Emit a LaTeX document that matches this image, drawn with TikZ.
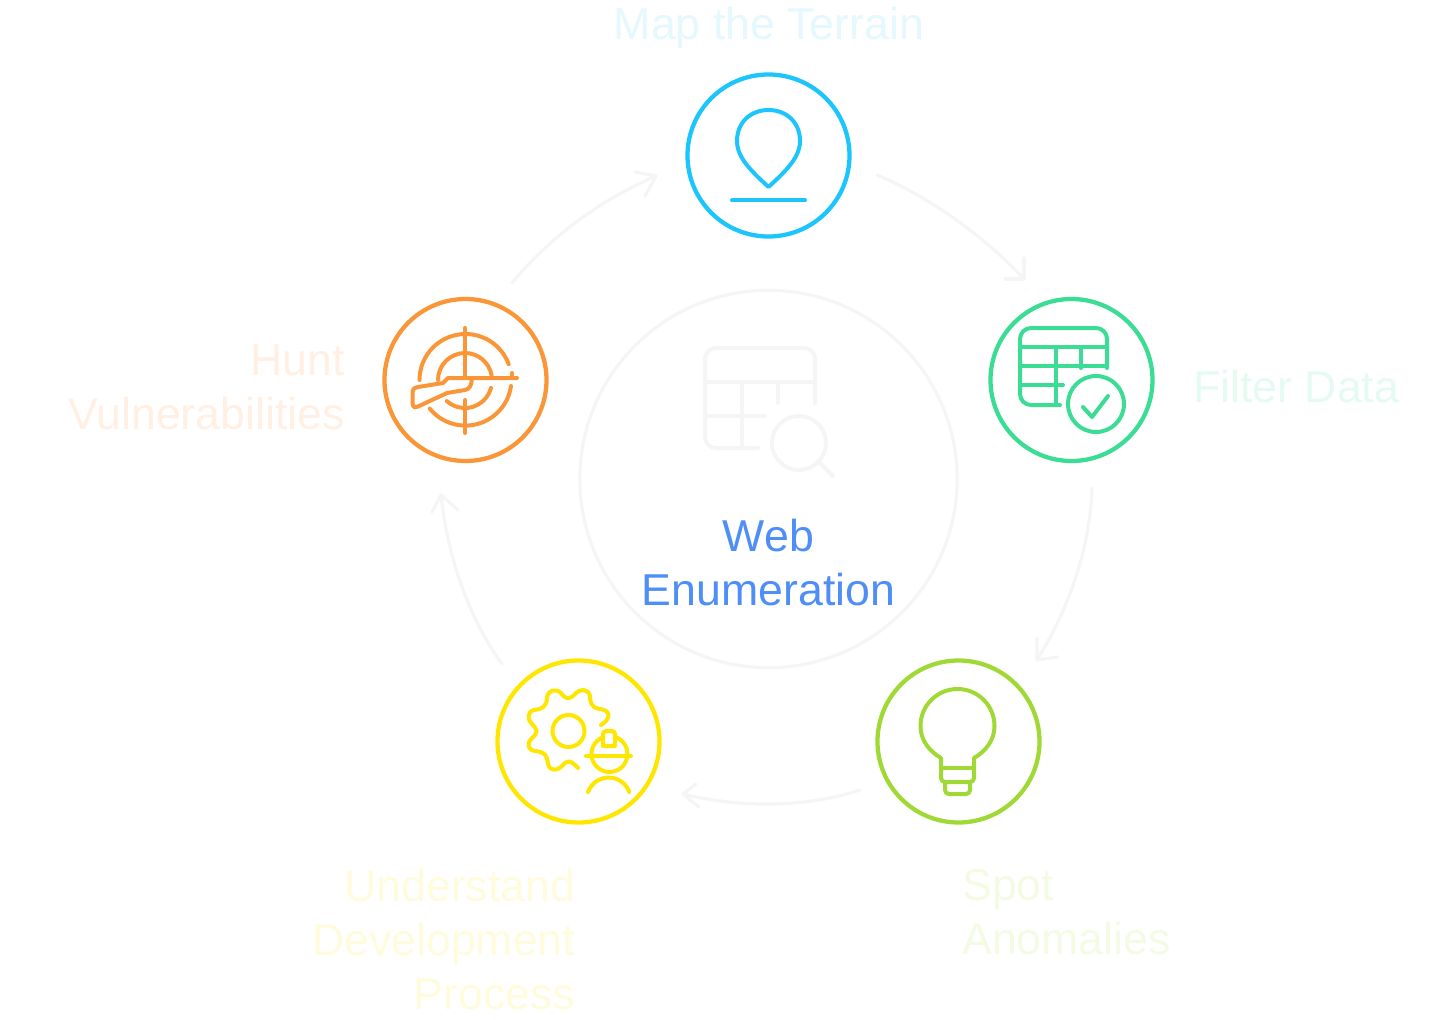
\documentclass[tikz,border=0pt]{standalone}
\usepackage{fontspec}
\setmainfont{Liberation Sans}
\usetikzlibrary{arrows.meta}
\definecolor{cblue}{HTML}{1CC5FB}
\definecolor{cgreen}{HTML}{3BDC93}
\definecolor{clime}{HTML}{A0D936}
\definecolor{cyel}{HTML}{FFE600}
\definecolor{corg}{HTML}{FA9637}
\definecolor{tblue}{HTML}{E4F8FE}
\definecolor{tgreen}{HTML}{E5FBF2}
\definecolor{tlime}{HTML}{F4FBE4}
\definecolor{tyel}{HTML}{FFFCDD}
\definecolor{torg}{HTML}{FFF0E3}
\definecolor{tcen}{HTML}{4F8EF7}
\definecolor{cgrey}{HTML}{F5F5F5}
\tikzset{
 x=0.75pt,y=-0.75pt,
 ring/.style={circle,draw,line width=3.2pt,minimum size=121.5pt,inner sep=0pt},
 ico/.style={line width=3pt,line cap=round,line join=round},
 flow/.style={draw=cgrey,line width=2.4pt,line cap=round,line join=round},
 lab/.style={font=\fontsize{33.5pt}{40.5pt}\selectfont,inner sep=0pt},
}
\begin{document}
\begin{tikzpicture}
\useasboundingbox (0,0) rectangle (1456,1020);
\node[circle,draw=cgrey,line width=2.4pt,minimum size=283pt,inner sep=0pt] (hub) at (768.5,479) {};
\node[ring,draw=cblue] (n1) at (768.5,155.5) {};
\node[ring,draw=cgreen] (n2) at (1071.5,380) {};
\node[ring,draw=clime] (n3) at (958.5,741.5) {};
\node[ring,draw=cyel] (n4) at (578.5,741.5) {};
\node[ring,draw=corg] (n5) at (465.5,380) {};
% connectors
\coordinate (a1s) at (877,175); \coordinate (a1e) at (1024,279);
\coordinate (a2s) at (1092,488); \coordinate (a2e) at (1037,660);
\coordinate (a3s) at (860,790); \coordinate (a3e) at (683,794);
\coordinate (a4s) at (502,664); \coordinate (a4e) at (441,495);
\coordinate (a5s) at (512,283); \coordinate (a5e) at (656,176);
\draw[flow] (a1s) .. controls (930,197) and (985,237) .. (a1e);
\draw[flow] (1005,279) -- (a1e) -- (1024,258);
\draw[flow] (a2s) .. controls (1090,550) and (1068,610) .. (a2e);
\draw[flow] (1037,638) -- (a2e) -- (1058,657);
\draw[flow] (a3s) .. controls (805,808) and (740,808) .. (a3e);
\draw[flow] (696,784) -- (a3e) -- (699,807);
\draw[flow] (a4s) .. controls (470,620) and (448,560) .. (a4e);
\draw[flow] (432,512) -- (a4e) -- (458,510);
\draw[flow] (a5s) .. controls (550,237) and (600,200) .. (a5e);
\draw[flow] (635,172) -- (a5e) -- (645,196);
% pin
\begin{scope}[ico,draw=cblue]
\draw (768.5,187) .. controls (750,170) and (737,157) .. (737,141)
 .. controls (737,122) and (751,110) .. (768.5,110)
 .. controls (786,110) and (800,122) .. (800,141)
 .. controls (800,157) and (787,170) .. (768.5,187) -- cycle;
\draw (732,200.5) -- (805,200.5);
\end{scope}
% table check
\begin{scope}[ico,draw=cgreen]
\draw (1107,368) -- (1107,339) arc[start angle=0,end angle=-90,radius=11] -- (1031,328)
 arc[start angle=270,end angle=180,radius=11] -- (1020,394) arc[start angle=180,end angle=90,radius=11] -- (1060,405);
\draw (1020,347) -- (1107,347);
\draw (1020,366) -- (1107,366);
\draw (1020,385) -- (1063,385);
\draw (1056,347) -- (1056,405);
\draw (1081,347) -- (1081,368);
\draw (1096,404) circle[radius=28];
\draw (1083,407) -- (1092,417) -- (1108,396);
\end{scope}
% bulb
\begin{scope}[ico,draw=clime]
\draw (941,758) .. controls (929,751) and (920.5,740) .. (920.5,726)
 arc[start angle=180,end angle=360,radius=37]
 .. controls (994.5,740) and (986,751) .. (974,758) -- (974,778)
 arc[start angle=0,end angle=90,radius=4] -- (945,782)
 arc[start angle=90,end angle=180,radius=4] -- cycle;
\draw (941,768) -- (974,768);
\draw (945,782) -- (945,790) arc[start angle=180,end angle=90,radius=4] -- (966,794)
 arc[start angle=90,end angle=0,radius=4] -- (970,782);
\end{scope}
% gear, worker
\begin{scope}[ico,draw=cyel]
\draw (568.5,731) circle[radius=16];
\draw (601,725) .. controls (612,718) and (610,710) .. (600,709)
 .. controls (590,708) and (590,700) .. (590,696)
 .. controls (588,688) and (580,689) .. (576,693)
 .. controls (570,700) and (566,700) .. (561,693)
 .. controls (555,688) and (549,690) .. (547,697)
 .. controls (547,707) and (542,709) .. (534,710)
 .. controls (527,712) and (527,719) .. (532,724)
 .. controls (538,730) and (538,733) .. (532,738)
 .. controls (526,744) and (528,750) .. (535,751)
 .. controls (545,752) and (547,755) .. (548,764)
 .. controls (550,771) and (556,771) .. (561,767)
 .. controls (568,759) and (570,760) .. (578,768);
\draw (586,756) -- (631,756);
\draw (609.5,754) circle[radius=18];
\draw[fill=white] (603,746) -- (603,734) arc[start angle=180,end angle=270,radius=3] -- (612,731) arc[start angle=270,end angle=360,radius=3] -- (615,746) -- cycle;
\draw (588,792) arc[start angle=200,end angle=340,radius=22];
\end{scope}
% target, rifle
\begin{scope}[ico,draw=corg]
\draw (465,328) -- (465,375);
\draw (465,400) -- (465,433);
\draw (419.5,380) arc[start angle=180,end angle=340,radius=46];
\draw (511,386) arc[start angle=8,end angle=141,radius=46];
\draw (438,380) arc[start angle=180,end angle=350,radius=27];
\draw (491,388) arc[start angle=15,end angle=132,radius=27];
\draw (517,378) -- (448,378) -- (443,383) -- (418,387) .. controls (414,388) and (412.5,389) .. (412.5,392) -- (412.5,404) .. controls (413.5,408) and (416,408) .. (418,406.5) -- (447,393) -- (465,390) .. controls (470,389) and (471.5,385) .. (472,378);
\draw (512,378) -- (512,373);
\end{scope}
% central table
\begin{scope}[ico,draw=cgrey]
\draw (815,403) -- (815,359) arc[start angle=0,end angle=-90,radius=11] -- (716,348)
 arc[start angle=270,end angle=180,radius=11] -- (705,437) arc[start angle=180,end angle=90,radius=11] -- (758,448);
\draw (705,382) -- (815,382);
\draw (705,416) -- (765,416);
\draw (742,382) -- (742,448);
\draw (778,382) -- (778,403);
\draw (799,443) circle[radius=27];
\draw (818,461) -- (833,476);
\end{scope}
% labels
\node[lab,text=tblue,anchor=base] (t1) at (769,40) {Map the Terrain};
\node[lab,text=tgreen,anchor=base west] (t2) at (1193,402) {Filter Data};
\node[lab,text=tlime,anchor=north west,align=left] (t3) at (962,869) {Spot\\Anomalies};
\node[lab,text=tyel,anchor=north east,align=right] (t4) at (575.5,869) {Understand\\Development\\Process};
\node[lab,text=torg,anchor=north east,align=right] (t5) at (345,345) {Hunt\\Vulnerabilities};
\node[lab,text=tcen,anchor=north,align=center] (t0) at (768.5,519) {Web\\Enumeration};
\end{tikzpicture}
\end{document}
